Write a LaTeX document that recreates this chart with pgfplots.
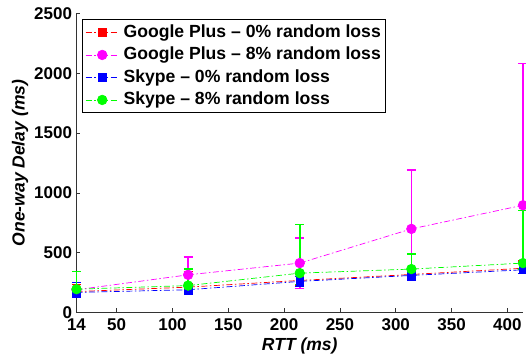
\documentclass[border=0pt]{standalone}
\usepackage{pgfplots}
\pgfplotsset{compat=1.18}
\usepackage{pgfplotstable}
\usepackage{fontspec}
\setmainfont{Liberation Sans}
\definecolor{mred}{rgb}{1,0,0}
\definecolor{mmag}{rgb}{1,0,1}
\definecolor{mblue}{rgb}{0,0,1}
\definecolor{mgreen}{rgb}{0,1,0}

\pgfplotstableread{
x y ep em
14 175 60 45
114 212 130 45
214 268 50 45
314 318 50 45
414 370 60 45
}\gpzero
\pgfplotstableread{
x y ep em
14 190 60 50
114 315 149 150
214 413 210 210
314 699 493 210
414 897 1183 45
}\gpeight
\pgfplotstableread{
x y ep em
14 168 80 40
114 190 50 40
214 260 40 40
314 310 60 45
414 357 60 30
}\skzero
\pgfplotstableread{
x y ep em
14 195 148 60
114 225 138 40
214 329 404 95
314 363 126 60
414 413 440 50
}\skeight

\pgfplotsset{
  myerr/.style={
    error bars/.cd, y dir=both, y explicit,
    error bar style={draw=#1, solid, line width=1.6bp},
    error mark options={rotate=90, mark size=4.5bp, draw=#1, solid, line width=1.2bp},
  },
}

\begin{document}
\begin{tikzpicture}
\path[use as bounding box] (-76.5bp,-43.5bp) rectangle (449.5bp,312.5bp);
\begin{axis}[
  at={(0,0)}, anchor=south west,
  width=446.5bp, height=299bp, scale only axis,
  xmin=14, xmax=414, ymin=0, ymax=2500,
  axis x line*=bottom, axis y line*=left,
  axis line style={line width=0.8bp, black!80},
  tick align=inside, major tick length=4bp,
  tick style={line width=0.6bp, black!80},
  xtick={14,50,100,150,200,250,300,350,400},
  ytick={0,500,1000,1500,2000,2500},
  /pgf/number format/assume math mode=true,
  /pgf/number format/1000 sep={},
  tick label style={font=\fontsize{17bp}{20bp}\selectfont\bfseries},
  xticklabel style={yshift=-3bp},
  yticklabel style={xshift=-1bp},
  xlabel={\bfseries\itshape RTT (ms)},
  ylabel={\bfseries\itshape One-way Delay (ms)},
  label style={font=\fontsize{17.5bp}{20bp}\selectfont},
  xlabel style={yshift=0bp},
  ylabel style={yshift=-1bp},
  clip=false,
  legend cell align=left,
  legend style={at={(axis description cs:0.0123,0.9806)}, anchor=north west,
    draw=black, line width=0.8bp, fill=white,
    font=\fontsize{17.6bp}{21bp}\selectfont\bfseries,
    inner xsep=3bp, inner ysep=1.5bp, row sep=0bp,
    /tikz/every odd column/.style={column sep=3bp},
    nodes={inner sep=1.5bp, text height=14.5bp, text depth=5bp}},
  legend image code/.code={
    \draw[#1, mark repeat=2, mark phase=2] plot coordinates {(0bp,0bp) (16.5bp,0bp) (33bp,0bp)};
  },
  every axis plot/.append style={line width=0.7bp, dash pattern=on 6bp off 2.5bp on 1.5bp off 2.5bp},
]
\addplot[color=mred, mark=square*, mark size=3.8bp, mark options={solid, fill=mred}, myerr=mred]
  table[x=x, y=y, y error plus=ep, y error minus=em] {\gpzero};
\addlegendentry{Google Plus -- 0\% random loss}
\addplot[color=mmag, mark=*, mark size=4.8bp, mark options={solid, fill=mmag}, myerr=mmag]
  table[x=x, y=y, y error plus=ep, y error minus=em] {\gpeight};
\addlegendentry{Google Plus -- 8\% random loss}
\addplot[color=mblue, mark=square*, mark size=3.8bp, mark options={solid, fill=mblue}, myerr=mblue]
  table[x=x, y=y, y error plus=ep, y error minus=em] {\skzero};
\addlegendentry{Skype -- 0\% random loss}
\addplot[color=mgreen, mark=*, mark size=4.8bp, mark options={solid, fill=mgreen}, myerr=mgreen]
  table[x=x, y=y, y error plus=ep, y error minus=em] {\skeight};
\addlegendentry{Skype -- 8\% random loss}
\end{axis}
\end{tikzpicture}
\end{document}
